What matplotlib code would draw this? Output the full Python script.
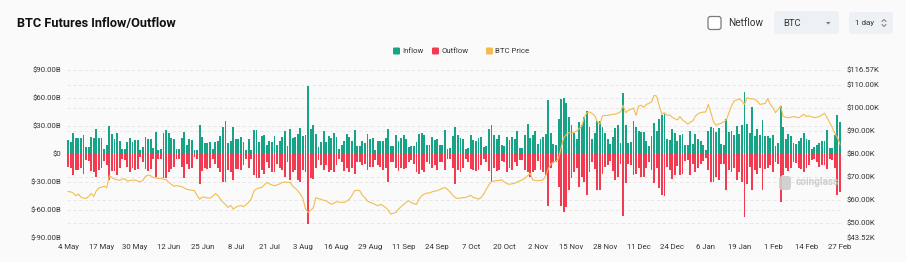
import numpy as np
import pandas as pd
import matplotlib
matplotlib.use("Agg")
import matplotlib.pyplot as plt
from matplotlib.patches import FancyBboxPatch, Polygon
from matplotlib.lines import Line2D
import matplotlib.transforms as mtransforms

# ---------------- data ----------------
start_date = "2024-05-04"

inflow = [
    14.6, 12.9, 22.8, 17.1, 17.1, 17.1, 20.7, 7.5, 7.1, 18.6,
    17.1, 27.1, 17.1, 17.1, 5.7, 10.0, 30.0, 21.8, 15.7, 22.8,
    13.6, 5.7, 5.7, 12.9, 17.1, 12.9, 15.0, 15.0, 3.9, 7.1,
    17.9, 16.4, 16.4, 6.4, 23.6, 4.3, 5.0, 22.1, 25.3, 22.8,
    17.1, 15.7, 5.0, 5.7, 17.1, 23.6, 9.3, 15.7, 15.0, 3.9,
    4.3, 30.7, 18.2, 12.1, 12.1, 12.9, 5.0, 12.9, 14.3, 19.3,
    28.6, 35.0, 12.1, 13.6, 28.6, 15.7, 15.7, 17.9, 12.9, 4.3,
    15.7, 4.3, 25.3, 26.1, 12.9, 19.3, 20.7, 9.3, 14.3, 12.9,
    19.3, 10.0, 14.3, 18.2, 25.0, 7.9, 27.1, 17.1, 17.9, 21.8,
    27.8, 19.3, 20.7, 72.8, 26.4, 31.4, 21.8, 7.5, 12.9, 24.3,
    12.9, 19.3, 17.1, 22.8, 17.9, 5.0, 10.0, 14.3, 21.4, 18.6,
    13.6, 25.3, 8.6, 8.6, 14.3, 11.4, 21.4, 15.7, 17.1, 3.9,
    13.6, 13.6, 14.3, 17.1, 27.1, 7.9, 7.9, 20.7, 14.3, 17.1,
    20.0, 16.4, 7.5, 7.9, 7.9, 12.9, 21.8, 22.5, 20.7, 10.0,
    10.0, 17.9, 15.4, 16.4, 9.3, 10.0, 25.3, 5.7, 6.4, 19.3,
    28.9, 20.7, 17.1, 15.7, 5.0, 6.4, 20.0, 15.0, 13.6, 17.1,
    17.9, 7.5, 8.6, 26.4, 31.4, 20.0, 15.7, 20.7, 10.0, 8.6,
    17.9, 15.0, 17.9, 16.4, 24.3, 6.4, 6.4, 20.7, 32.5, 17.1,
    20.7, 25.0, 10.7, 16.4, 18.2, 21.8, 57.5, 22.8, 10.7, 9.3,
    37.8, 58.5, 60.0, 55.0, 39.6, 31.4, 22.8, 15.7, 34.3, 31.4,
    39.6, 45.7, 28.9, 16.4, 22.8, 35.0, 35.7, 28.6, 22.1, 15.7,
    10.7, 17.9, 27.8, 31.4, 12.1, 65.7, 30.7, 12.1, 12.9, 35.0,
    28.9, 25.0, 23.6, 23.6, 13.6, 8.2, 19.3, 32.8, 24.3, 37.1,
    42.1, 43.2, 16.4, 15.4, 26.4, 22.8, 13.6, 20.0, 21.8, 10.0,
    9.3, 24.3, 10.7, 21.4, 15.7, 13.6, 10.0, 3.6, 24.3, 28.6,
    27.8, 23.6, 27.8, 11.1, 9.3, 37.1, 23.6, 25.0, 20.7, 29.6,
    21.4, 30.7, 66.4, 32.5, 22.8, 50.3, 19.3, 27.1, 20.0, 36.1,
    19.3, 19.3, 17.1, 20.0, 8.6, 12.1, 51.4, 28.9, 16.4, 21.8,
    19.3, 12.1, 10.7, 13.6, 17.1, 22.1, 15.7, 14.6, 5.0, 7.5,
    9.3, 12.1, 13.6, 13.6, 25.3, 6.4, 6.4, 20.7, 42.1, 34.3,
]

outflow = [
    13.9, 15.0, 22.8, 17.5, 17.5, 15.7, 22.1, 7.1, 7.5, 17.9,
    19.3, 24.6, 17.5, 15.7, 7.9, 12.1, 28.2, 18.6, 17.9, 22.8,
    15.0, 5.7, 7.1, 13.9, 19.3, 15.0, 17.5, 16.4, 3.6, 8.6,
    16.4, 17.9, 16.4, 5.0, 24.6, 5.0, 5.7, 25.7, 25.7, 19.3,
    16.4, 13.9, 5.7, 5.0, 13.9, 25.7, 10.4, 16.4, 15.0, 3.2,
    5.7, 32.8, 17.9, 15.0, 16.4, 15.7, 5.0, 10.4, 15.0, 19.3,
    30.0, 30.7, 17.5, 19.3, 27.8, 16.4, 16.4, 17.1, 12.1, 5.0,
    15.7, 5.7, 22.8, 26.4, 26.4, 17.5, 22.1, 8.6, 15.7, 19.3,
    19.3, 10.4, 15.7, 17.5, 24.6, 8.6, 28.2, 19.3, 17.5, 28.2,
    30.0, 17.5, 19.3, 75.7, 26.4, 27.1, 15.7, 7.1, 12.1, 17.5,
    12.1, 19.3, 17.5, 19.3, 12.1, 5.0, 8.6, 18.6, 15.7, 19.3,
    15.7, 21.1, 8.6, 8.6, 12.1, 10.4, 17.5, 13.9, 13.9, 6.8,
    12.1, 13.9, 17.5, 15.7, 30.7, 8.6, 8.6, 15.0, 18.6, 15.7,
    16.4, 15.7, 8.6, 6.8, 10.4, 19.3, 21.1, 17.5, 19.3, 8.6,
    10.4, 15.7, 12.1, 17.5, 8.6, 8.6, 17.5, 5.7, 5.7, 15.0,
    32.8, 17.5, 19.3, 15.7, 5.7, 8.6, 16.4, 17.5, 18.6, 17.5,
    12.1, 5.7, 8.6, 18.6, 30.7, 15.0, 18.6, 17.5, 7.9, 8.6,
    19.3, 15.0, 17.5, 8.6, 12.9, 7.1, 6.8, 17.5, 19.3, 24.6,
    19.3, 17.5, 7.9, 17.5, 19.3, 22.8, 55.7, 15.0, 10.0, 8.6,
    35.3, 55.7, 62.8, 57.1, 38.9, 26.4, 19.3, 15.7, 35.3, 24.6,
    30.0, 44.3, 19.3, 8.6, 16.4, 38.9, 38.6, 21.4, 13.9, 12.1,
    7.9, 18.6, 28.2, 24.6, 10.7, 67.1, 31.8, 10.4, 12.1, 22.8,
    21.1, 15.7, 24.6, 24.6, 15.7, 8.6, 17.5, 31.8, 15.7, 37.1,
    44.3, 45.0, 14.3, 17.5, 27.1, 22.8, 12.9, 22.8, 21.1, 7.9,
    7.1, 22.8, 11.4, 19.3, 15.0, 11.4, 7.9, 4.3, 17.5, 30.0,
    30.0, 24.6, 28.2, 10.7, 10.4, 38.9, 17.5, 19.3, 15.0, 28.2,
    19.3, 30.7, 67.5, 32.8, 13.9, 38.9, 17.5, 21.1, 15.7, 38.9,
    16.4, 15.0, 12.1, 19.3, 8.6, 10.4, 51.4, 22.8, 15.0, 18.6,
    15.0, 8.6, 9.3, 15.0, 16.4, 20.0, 15.7, 12.1, 6.8, 5.7,
    8.6, 13.9, 12.1, 12.1, 16.4, 5.0, 7.1, 15.0, 44.3, 40.7,
]

btc_price = [  # thousands of USD
    63.6, 63.5, 63.0, 61.8, 62.5, 61.2, 60.8, 60.6, 61.5, 62.8,
    61.5, 64.0, 65.2, 65.5, 66.0, 65.3, 70.5, 69.8, 69.0, 68.8,
    68.5, 69.0, 69.2, 68.2, 68.4, 68.6, 68.6, 68.2, 67.8, 68.5,
    70.2, 70.8, 70.5, 69.8, 69.5, 69.3, 69.5, 69.0, 68.8, 67.6,
    66.8, 66.0, 66.2, 66.0, 65.8, 65.2, 64.6, 64.4, 64.2, 64.0,
    62.0, 60.3, 61.2, 61.2, 60.8, 60.8, 61.5, 62.7, 62.0, 60.3,
    59.0, 58.0, 56.7, 57.6, 56.0, 56.8, 57.3, 57.5, 57.0, 58.0,
    59.0, 60.5, 63.8, 64.8, 65.2, 65.4, 66.5, 67.6, 67.0, 66.5,
    66.1, 66.5, 67.0, 67.6, 67.8, 67.6, 67.6, 66.1, 65.0, 64.0,
    62.5, 60.5, 56.0, 54.5, 55.5, 56.5, 61.0, 60.5, 60.3, 59.8,
    59.6, 58.8, 58.1, 58.6, 59.2, 59.0, 58.9, 58.9, 59.5, 60.3,
    62.0, 64.0, 64.2, 64.0, 62.0, 61.0, 59.5, 58.9, 58.5, 58.0,
    57.4, 58.1, 57.5, 56.7, 55.5, 53.8, 54.2, 54.5, 56.0, 57.0,
    58.0, 59.0, 59.6, 58.8, 58.3, 58.1, 60.5, 61.8, 62.5, 63.0,
    63.0, 63.5, 63.8, 64.0, 64.5, 65.0, 65.4, 64.5, 63.5, 62.0,
    61.0, 60.6, 60.8, 61.0, 61.0, 61.5, 62.0, 61.0, 60.8, 60.3,
    61.0, 62.5, 64.6, 66.5, 67.9, 68.2, 68.4, 68.5, 68.7, 67.8,
    67.0, 66.8, 67.0, 67.2, 67.8, 68.3, 68.7, 69.5, 70.5, 71.6,
    68.7, 68.5, 68.3, 68.5, 68.7, 70.5, 73.5, 75.5, 76.5, 76.8,
    78.0, 82.8, 87.1, 88.5, 89.3, 89.0, 89.5, 90.0, 91.0, 92.2,
    96.0, 98.0, 98.3, 97.7, 96.6, 94.0, 93.0, 96.6, 96.8, 96.8,
    97.0, 97.3, 97.3, 97.8, 98.3, 101.2, 98.0, 99.0, 99.4, 100.0,
    96.8, 100.9, 101.2, 100.2, 101.6, 102.0, 102.7, 105.5, 105.2, 100.9,
    97.3, 98.0, 96.8, 97.0, 96.0, 95.4, 94.8, 96.3, 94.8, 94.0,
    93.0, 93.8, 94.4, 96.5, 97.5, 98.0, 98.2, 98.3, 101.6, 98.0,
    94.0, 92.5, 93.0, 93.4, 94.0, 94.8, 98.0, 101.0, 103.1, 103.5,
    104.1, 103.0, 101.6, 104.5, 104.1, 104.0, 103.8, 103.0, 101.6, 101.8,
    102.0, 104.1, 101.5, 100.2, 98.0, 99.4, 100.9, 96.3, 96.0, 95.8,
    96.0, 96.3, 96.0, 95.8, 96.5, 97.3, 96.3, 96.6, 96.2, 95.8,
    96.0, 96.3, 97.0, 97.7, 95.8, 93.7, 91.5, 89.0, 87.1, 84.2,
]

left_ticks = [-90, -60, -30, 0, 30, 60, 90]
left_labels = ["$-90.00B", "$-60.00B", "$-30.00B", "$0", "$30.00B", "$60.00B", "$90.00B"]
right_ticks = [43.52, 50, 60, 70, 80, 90, 100, 110, 116.57]
right_labels = ["$43.52K", "$50.00K", "$60.00K", "$70.00K", "$80.00K",
                "$90.00K", "$100.00K", "$110.00K", "$116.57K"]
label_every = 13

# ---------------- style ----------------
INFLOW_C = "#17a386"
OUTFLOW_C = "#f23b50"
PRICE_C = "#f2bd4e"
BG = "#fafafa"
GRID_C = "#e4e4e4"
TXT = "#333333"
FONT = ["Roboto", "DejaVu Sans"]
plt.rcParams["font.family"] = FONT

W, H = 906, 262
fig = plt.figure(figsize=(W / 100, H / 100), dpi=100, facecolor=BG)

ax = fig.add_axes([66.7 / W, 24.3 / H, 774.6 / W, 167.7 / H])
ax.set_facecolor(BG)
dates = pd.date_range(start_date, periods=len(inflow), freq="D")
x = np.arange(len(dates))

ax.bar(x, inflow, width=0.72, color=INFLOW_C, linewidth=0, zorder=2)
ax.bar(x, -np.asarray(outflow), width=0.72, color=OUTFLOW_C, linewidth=0, zorder=2)
ax.set_xlim(-0.5, len(x) - 0.5)
ax.set_ylim(-90, 90)
ax.set_yticks(left_ticks)
ax.set_yticklabels(left_labels)
xt = x[::label_every]
ax.set_xticks(xt)
ax.set_xticklabels([f"{d.day} {d.strftime('%b')}" for d in dates[::label_every]])
ax.tick_params(axis="both", length=0, labelsize=5.6, colors=TXT)
ax.tick_params(axis="x", pad=4.2)
ax.tick_params(axis="y", pad=3.6)
for s in ax.spines.values():
    s.set_visible(False)
for v in left_ticks:
    ax.axhline(v, color=GRID_C, lw=0.6, ls=(0, (4, 3)), zorder=0)

ax2 = ax.twinx()
ax2.set_ylim(right_ticks[0], right_ticks[-1])
ax2.plot(x, btc_price, color=PRICE_C, lw=0.8, zorder=5)
ax2.set_yticks(right_ticks)
ax2.set_yticklabels(right_labels)
ax2.tick_params(axis="y", length=0, labelsize=5.6, colors=TXT, pad=3.9)
for s in ax2.spines.values():
    s.set_visible(False)
# right-axis gridlines drawn under the bars
bt = mtransforms.blended_transform_factory(ax.transAxes, ax2.transData)
for v in right_ticks[1:-1]:
    ax.add_line(Line2D([0, 1], [v, v], transform=bt, color=GRID_C, lw=0.6,
                       ls=(0, (4, 3)), zorder=0))

# watermark
ax.text(0.9405, 0.33, "coinglass", transform=ax.transAxes, fontsize=7.2,
        fontweight="bold", color="#c8c8c8", alpha=0.9, va="center", ha="left", zorder=6)

# ---------------- figure-level decorations (pixel coords) ----------------
T = fig.dpi_scale_trans


def P(px, py):
    return px / 100.0, (H - py) / 100.0


# watermark logo
fig.add_artist(FancyBboxPatch(P(779, 190), 0.12, 0.14,
                              boxstyle="round,pad=0,rounding_size=0.03",
                              fc="#cdcdcd", ec="none", transform=T, alpha=0.9))

fig.text(*P(17, 23), "BTC Futures Inflow/Outflow", transform=T, fontsize=9.2,
         fontweight="bold", color="#111111", va="center", ha="left")

# legend
leg = [("Inflow", INFLOW_C, 393), ("Outflow", OUTFLOW_C, 432), ("BTC Price", PRICE_C, 486)]
for name, col, lx in leg:
    fig.add_artist(FancyBboxPatch(P(lx, 54.5), 0.07, 0.07,
                                  boxstyle="round,pad=0,rounding_size=0.012",
                                  fc=col, ec="none", transform=T))
    fig.text(*P(lx + 9, 51), name, transform=T, fontsize=5.6, color=TXT,
             va="center", ha="left")

# netflow checkbox
fig.add_artist(FancyBboxPatch(P(708, 29.5), 0.13, 0.13,
                              boxstyle="round,pad=0,rounding_size=0.025",
                              fc="white", ec="#7a7a7a", lw=0.9, transform=T))
fig.text(*P(728, 23), "Netflow", transform=T, fontsize=7.2, color=TXT,
         va="center", ha="left")

# BTC dropdown
fig.add_artist(FancyBboxPatch(P(774, 34), 0.65, 0.23,
                              boxstyle="round,pad=0,rounding_size=0.03",
                              fc="#edf0f4", ec="none", transform=T))
fig.text(*P(783, 23), "BTC", transform=T, fontsize=6.8, color=TXT, va="center", ha="left")
fig.add_artist(Polygon([P(826, 22), P(830.5, 22), P(828.25, 24.5)], closed=True,
                       fc="#777777", ec="none", transform=T))

# 1 day selector
fig.add_artist(FancyBboxPatch(P(849, 34), 0.44, 0.22,
                              boxstyle="round,pad=0,rounding_size=0.03",
                              fc="#edf0f4", ec="none", transform=T))
fig.text(*P(855, 23), "1 day", transform=T, fontsize=5.8, color=TXT, va="center", ha="left")
for (a, b, c) in [((882, 21.5), (884, 19.5), (886, 21.5)), ((882, 24.5), (884, 26.5), (886, 24.5))]:
    fig.add_artist(Line2D([P(*a)[0], P(*b)[0], P(*c)[0]], [P(*a)[1], P(*b)[1], P(*c)[1]],
                          transform=T, color="#666666", lw=0.6))

fig.savefig("out.png", dpi=100, facecolor=BG)
